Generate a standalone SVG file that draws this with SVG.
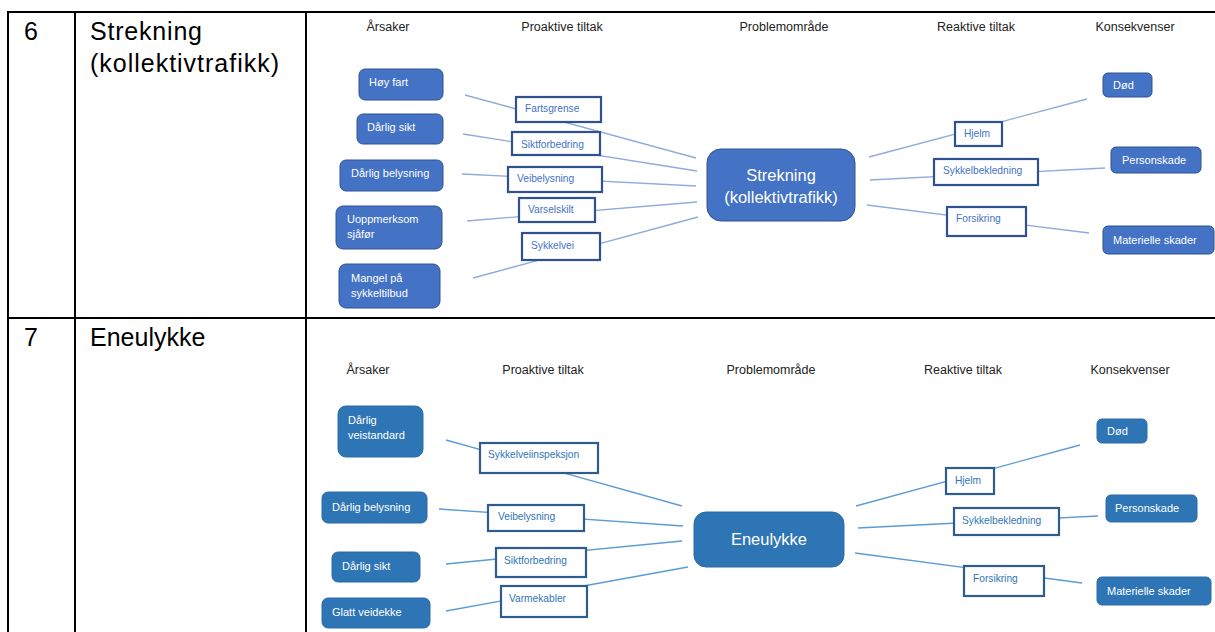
<svg xmlns="http://www.w3.org/2000/svg" width="1215" height="632" viewBox="0 0 1215 632">
<style>
text{font-family:"Liberation Sans",Arial,sans-serif}
.tbl{stroke:#000;stroke-width:2;fill:none}
.tt{font-size:25px;fill:#000}
.hd{font-size:12.5px;fill:#222;text-anchor:middle}
.c1{fill:#4472C4;stroke:#2F528F;stroke-width:1}
.c2{fill:#2E75B6;stroke:#2E6BA8;stroke-width:1}
.w{fill:#fff;font-size:11px}
.b1{fill:#fff;stroke:#2F528F;stroke-width:2.2}
.b2{fill:#fff;stroke:#2E5C8E;stroke-width:2.2}
.bt1{fill:#4472C4;font-size:10.2px}
.bt2{fill:#2E75B6;font-size:10.2px}
.l1{stroke:#8FAADC;stroke-width:1.3}
.l2{stroke:#5B9BD5;stroke-width:1.3}
.ct{fill:#fff;font-size:16.5px;text-anchor:middle}
</style>
<rect width="1215" height="632" fill="#fff"/>
<g id="table">
<line class="tbl" x1="7" y1="12" x2="1215" y2="12"/>
<line class="tbl" x1="8" y1="12" x2="8" y2="632"/>
<line class="tbl" x1="75" y1="12" x2="75" y2="632"/>
<line class="tbl" x1="306" y1="12" x2="306" y2="632"/>
<line class="tbl" x1="8" y1="318" x2="1215" y2="318"/>
<text class="tt" x="24" y="40">6</text>
<text class="tt" x="90" y="40" textLength="112">Strekning</text>
<text class="tt" x="90" y="72" textLength="189">(kollektivtrafikk)</text>
<text class="tt" x="24" y="346">7</text>
<text class="tt" x="90" y="346">Eneulykke</text>
</g>
<g id="headers">
<text class="hd" x="388" y="31">Årsaker</text>
<text class="hd" x="562" y="31">Proaktive tiltak</text>
<text class="hd" x="784" y="31">Problemområde</text>
<text class="hd" x="976" y="31">Reaktive tiltak</text>
<text class="hd" x="1135" y="31">Konsekvenser</text>
<text class="hd" x="368" y="374">Årsaker</text>
<text class="hd" x="543" y="374">Proaktive tiltak</text>
<text class="hd" x="771" y="374">Problemområde</text>
<text class="hd" x="963" y="374">Reaktive tiltak</text>
<text class="hd" x="1130" y="374">Konsekvenser</text>
</g>
<g id="connectors">
<line class="l1" x1="465" y1="95" x2="696" y2="158"/>
<line class="l1" x1="463" y1="134" x2="697" y2="171"/>
<line class="l1" x1="462" y1="174" x2="696" y2="186"/>
<line class="l1" x1="467" y1="221" x2="697" y2="202"/>
<line class="l1" x1="473" y1="278" x2="698" y2="217"/>
<line class="l1" x1="869" y1="157" x2="1087" y2="99"/>
<line class="l1" x1="870" y1="180" x2="1105" y2="168"/>
<line class="l1" x1="867" y1="205" x2="1089" y2="233"/>
<line class="l2" x1="446" y1="440" x2="682" y2="506"/>
<line class="l2" x1="439" y1="509" x2="683" y2="526"/>
<line class="l2" x1="446" y1="564" x2="682" y2="541"/>
<line class="l2" x1="446" y1="611" x2="688" y2="567"/>
<line class="l2" x1="856" y1="506" x2="1080" y2="445"/>
<line class="l2" x1="858" y1="528" x2="1098" y2="516"/>
<line class="l2" x1="855" y1="553" x2="1082" y2="583"/>
</g>
<g id="d6-hoy-fart"><rect class="c1" x="359" y="69" width="84" height="31" rx="6"/><text class="w" x="369" y="86">Høy fart</text></g>
<g id="d6-darlig-sikt"><rect class="c1" x="357" y="114" width="86" height="30" rx="6"/><text class="w" x="367" y="131">Dårlig sikt</text></g>
<g id="d6-darlig-belysning"><rect class="c1" x="340" y="160" width="103" height="31" rx="6"/><text class="w" x="351" y="177">Dårlig belysning</text></g>
<g id="d6-uoppmerksom"><rect class="c1" x="336" y="206" width="106" height="43" rx="7"/><text class="w" x="347" y="223">Uoppmerksom</text><text class="w" x="347" y="238">sjåfør</text></g>
<g id="d6-mangel"><rect class="c1" x="339" y="264" width="101" height="44" rx="7"/><text class="w" x="351" y="282">Mangel på</text><text class="w" x="351" y="297">sykkeltilbud</text></g>
<g id="d6-fartsgrense"><rect class="b1" x="516" y="97" width="85" height="25"/><text class="bt1" x="525" y="112">Fartsgrense</text></g>
<g id="d6-siktforbedring"><rect class="b1" x="512" y="132" width="88" height="23"/><text class="bt1" x="521" y="148">Siktforbedring</text></g>
<g id="d6-veibelysning"><rect class="b1" x="508" y="167" width="94" height="25"/><text class="bt1" x="517" y="182">Veibelysning</text></g>
<g id="d6-varselskilt"><rect class="b1" x="519" y="198" width="76" height="24"/><text class="bt1" x="528" y="213">Varselskilt</text></g>
<g id="d6-sykkelvei"><rect class="b1" x="522" y="233" width="78" height="27"/><text class="bt1" x="531" y="249">Sykkelvei</text></g>
<g id="d6-center"><rect class="c1" x="707" y="149" width="148" height="72" rx="14"/><text class="ct" x="781" y="181">Strekning</text><text class="ct" x="781" y="203">(kollektivtrafikk)</text></g>
<g id="d6-hjelm"><rect class="b1" x="955" y="122" width="47" height="24"/><text class="bt1" x="964" y="137">Hjelm</text></g>
<g id="d6-sykkelbekledning"><rect class="b1" x="934" y="159" width="104" height="26"/><text class="bt1" x="943" y="174">Sykkelbekledning</text></g>
<g id="d6-forsikring"><rect class="b1" x="947" y="207" width="79" height="29"/><text class="bt1" x="956" y="222">Forsikring</text></g>
<g id="d6-dod"><rect class="c1" x="1103" y="73" width="49" height="24" rx="5"/><text class="w" x="1113" y="89">Død</text></g>
<g id="d6-personskade"><rect class="c1" x="1111" y="147" width="90" height="26" rx="5"/><text class="w" x="1122" y="164">Personskade</text></g>
<g id="d6-materielle"><rect class="c1" x="1103" y="226" width="111" height="28" rx="5"/><text class="w" x="1113" y="244">Materielle skader</text></g>
<g id="d7-veistandard"><rect class="c2" x="338" y="406" width="85" height="51" rx="8"/><text class="w" x="348" y="424">Dårlig</text><text class="w" x="348" y="439">veistandard</text></g>
<g id="d7-darlig-belysning"><rect class="c2" x="322" y="492" width="105" height="31" rx="6"/><text class="w" x="332" y="511">Dårlig belysning</text></g>
<g id="d7-darlig-sikt"><rect class="c2" x="332" y="552" width="88" height="30" rx="6"/><text class="w" x="342" y="570">Dårlig sikt</text></g>
<g id="d7-glatt"><rect class="c2" x="322" y="598" width="108" height="30" rx="6"/><text class="w" x="332" y="616">Glatt veidekke</text></g>
<g id="d7-sykkelveiinspeksjon"><rect class="b2" x="480" y="443" width="118" height="30"/><text class="bt2" x="488" y="458">Sykkelveiinspeksjon</text></g>
<g id="d7-veibelysning"><rect class="b2" x="488" y="505" width="96" height="26"/><text class="bt2" x="498" y="520">Veibelysning</text></g>
<g id="d7-siktforbedring"><rect class="b2" x="496" y="548" width="90" height="29"/><text class="bt2" x="504" y="564">Siktforbedring</text></g>
<g id="d7-varmekabler"><rect class="b2" x="501" y="586" width="86" height="31"/><text class="bt2" x="509" y="602">Varmekabler</text></g>
<g id="d7-center"><rect class="c2" x="694" y="512" width="150" height="55" rx="12"/><text class="ct" x="769" y="545">Eneulykke</text></g>
<g id="d7-hjelm"><rect class="b2" x="946" y="468" width="48" height="26"/><text class="bt2" x="955" y="484">Hjelm</text></g>
<g id="d7-sykkelbekledning"><rect class="b2" x="954" y="508" width="105" height="27"/><text class="bt2" x="962" y="524">Sykkelbekledning</text></g>
<g id="d7-forsikring"><rect class="b2" x="964" y="566" width="80" height="30"/><text class="bt2" x="973" y="582">Forsikring</text></g>
<g id="d7-dod"><rect class="c2" x="1097" y="419" width="50" height="24" rx="5"/><text class="w" x="1107" y="435">Død</text></g>
<g id="d7-personskade"><rect class="c2" x="1106" y="495" width="91" height="27" rx="5"/><text class="w" x="1115" y="512">Personskade</text></g>
<g id="d7-materielle"><rect class="c2" x="1097" y="577" width="114" height="28" rx="5"/><text class="w" x="1107" y="595">Materielle skader</text></g>
</svg>
